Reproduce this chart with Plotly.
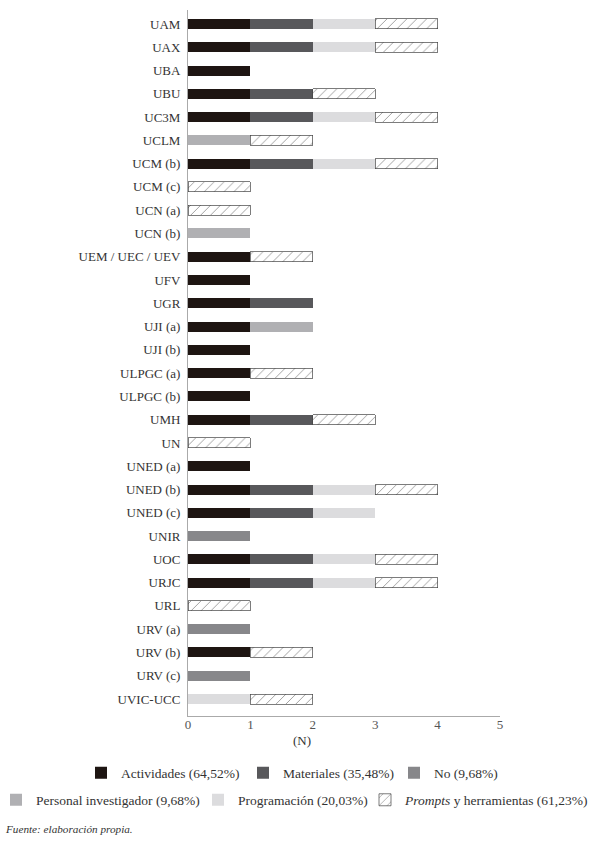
import plotly.graph_objects as go

universidades = ["UAM", "UAX", "UBA", "UBU", "UC3M", "UCLM", "UCM (b)", "UCM (c)", "UCN (a)", "UCN (b)",
                 "UEM / UEC / UEV", "UFV", "UGR", "UJI (a)", "UJI (b)", "ULPGC (a)", "ULPGC (b)", "UMH", "UN",
                 "UNED (a)", "UNED (b)", "UNED (c)", "UNIR", "UOC", "URJC", "URL", "URV (a)", "URV (b)",
                 "URV (c)", "UVIC-UCC"]

actividades = [1, 1, 1, 1, 1, 0, 1, 0, 0, 0, 1, 1, 1, 1, 1, 1, 1, 1, 0, 1, 1, 1, 0, 1, 1, 0, 0, 1, 0, 0]
materiales  = [1, 1, 0, 1, 1, 0, 1, 0, 0, 0, 0, 0, 1, 0, 0, 0, 0, 1, 0, 0, 1, 1, 0, 1, 1, 0, 0, 0, 0, 0]
no_uso      = [0, 0, 0, 0, 0, 0, 0, 0, 0, 0, 0, 0, 0, 0, 0, 0, 0, 0, 0, 0, 0, 0, 1, 0, 0, 0, 1, 0, 1, 0]
personal    = [0, 0, 0, 0, 0, 1, 0, 0, 0, 1, 0, 0, 0, 1, 0, 0, 0, 0, 0, 0, 0, 0, 0, 0, 0, 0, 0, 0, 0, 0]
programacion= [1, 1, 0, 0, 1, 0, 1, 0, 0, 0, 0, 0, 0, 0, 0, 0, 0, 0, 0, 0, 1, 1, 0, 1, 1, 0, 0, 0, 0, 1]
prompts     = [1, 1, 0, 1, 1, 1, 1, 1, 1, 0, 1, 0, 0, 0, 0, 1, 0, 1, 1, 0, 1, 0, 0, 1, 1, 1, 0, 1, 0, 1]

series_names = ["Actividades (64,52%)", "Materiales (35,48%)", "No (9,68%)",
                "Personal investigador (9,68%)", "Programación (20,03%)",
                "<i>Prompts</i> y herramientas (61,23%)"]
series_values = [actividades, materiales, no_uso, personal, programacion, prompts]
series_colors = ["#1e1512", "#58585b", "#87878a", "#b0b0b3", "#dcdcde", "#ffffff"]

x_ticks = [0, 1, 2, 3, 4, 5]

FONT = "Liberation Serif"

# plot area in pixels (for placing legends/annotations in paper coordinates)
PL, PR, PT, PB = 188, 500, 10, 716
PW, PH = PR - PL, PB - PT

def px_x(x):
    return (x - PL) / PW

def px_y(y):
    return (PB - y) / PH

# legend item positions (left edge px, row centre px), one legend per item
legend_pos = [(81, 773), (243, 773), (394, 773), (-4, 800), (198, 800), (365, 800)]

fig = go.Figure()
legend_layout = {}
for i, (name, vals, col) in enumerate(zip(series_names, series_values, series_colors)):
    if name.startswith("<i>Prompts"):
        marker = dict(color="#ffffff",
                      pattern=dict(shape="/", fgcolor="#222222", bgcolor="#ffffff", size=7, solidity=0.12),
                      line=dict(color="#444444", width=0.7))
    else:
        marker = dict(color=col, line=dict(width=0))
    leg_id = "legend" if i == 0 else f"legend{i + 1}"
    fig.add_trace(go.Bar(x=[v if v else None for v in vals], y=universidades, orientation="h",
                         name=name, marker=marker, width=0.43, legend=leg_id))
    lx, ly = legend_pos[i]
    legend_layout[leg_id] = dict(orientation="h", x=px_x(lx), y=px_y(ly), xanchor="left", yanchor="middle",
                                 font=dict(size=13.5, color="#333333"), itemwidth=30,
                                 bgcolor="rgba(0,0,0,0)", borderwidth=0)

fig.update_layout(
    barmode="stack",
    width=600, height=846,
    margin=dict(l=PL, r=600 - PR, t=PT, b=846 - PB, autoexpand=False),
    paper_bgcolor="white", plot_bgcolor="white",
    font=dict(family=FONT, color="#333333", size=13),
    xaxis=dict(range=[0, 5], tickvals=x_ticks, ticktext=[str(t) for t in x_ticks],
               showgrid=False, zeroline=False, showline=True, linecolor="#aaaaaa", linewidth=1,
               ticks="", automargin=False, ticklabelstandoff=-4,
               tickfont=dict(size=13, color="#555555")),
    yaxis=dict(type="category", categoryorder="array", categoryarray=universidades,
               range=[29.73, -0.6], showgrid=False, zeroline=False, showline=True,
               linecolor="#aaaaaa", linewidth=1, ticks="", ticklabelstandoff=4, automargin=False,
               tickfont=dict(size=13, color="#333333")),
    showlegend=True,
    **legend_layout,
)

fig.add_annotation(text="(N)", xref="paper", yref="paper", x=px_x(302), y=px_y(740),
                   showarrow=False, font=dict(size=13, color="#333333"), xanchor="center", yanchor="middle")
fig.add_annotation(text="<i>Fuente: elaboración propia.</i>", xref="paper", yref="paper",
                   x=px_x(3), y=px_y(829), showarrow=False,
                   font=dict(size=11.2, color="#333333"), xanchor="left", yanchor="middle")

fig.write_html("out.html", config={"displayModeBar": False},
               post_script="document.body.style.margin='0';")
